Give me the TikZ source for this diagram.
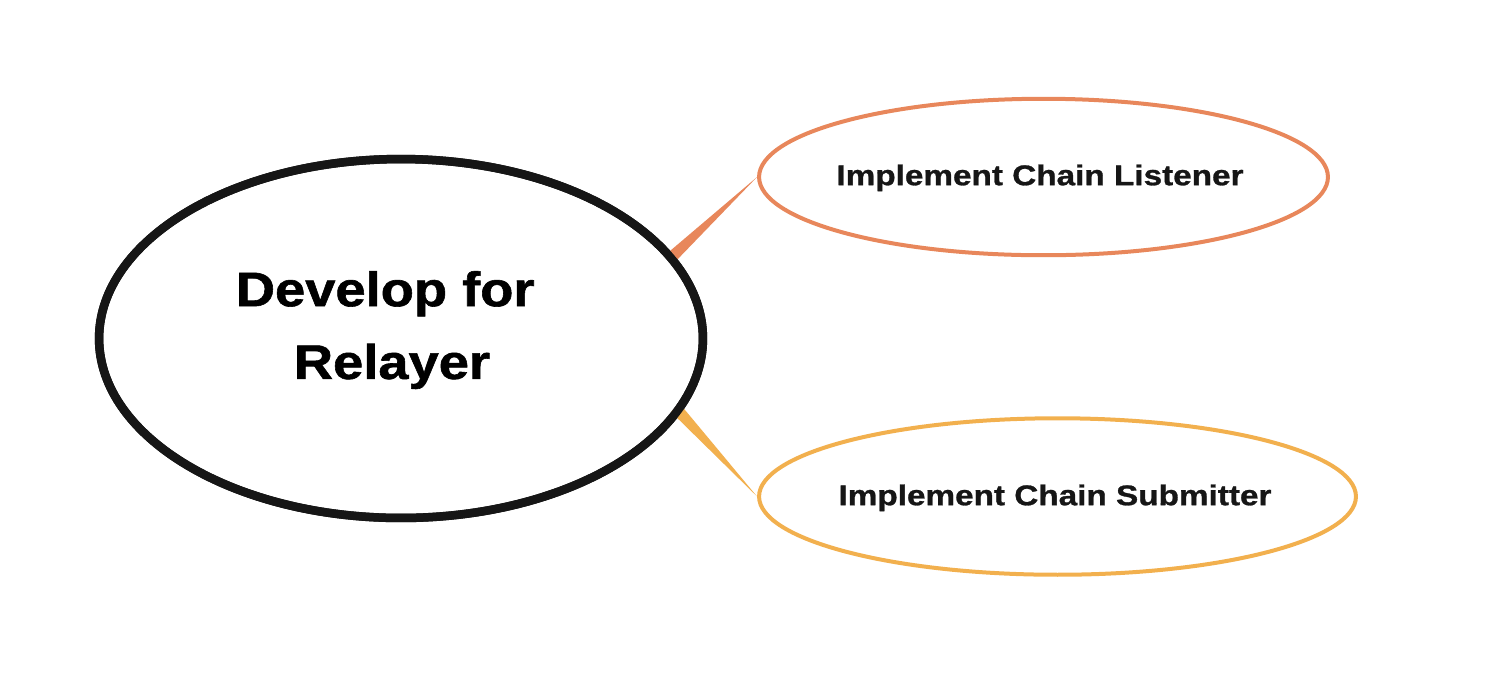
\documentclass[tikz,border=0pt]{standalone}
\usepackage{fontspec}
\setmainfont{Liberation Sans}
\newfontfamily\robo[FakeStretch=1.12, BoldFeatures={FakeBold=1.2}]{Liberation Sans}
\newfontfamily\robochild[FakeStretch=1.17, BoldFeatures={FakeBold=1.0}]{Liberation Sans}
\usetikzlibrary{shapes.geometric,calc}
\definecolor{inkblack}{HTML}{161616}
\definecolor{orangeline}{HTML}{E8875B}
\definecolor{yellowline}{HTML}{F2B04E}
\tikzset{
  mainbox/.style={ellipse, draw=inkblack, line width=0.17cm, inner sep=0pt,
    minimum width=12.08cm, minimum height=7.18cm},
  childbox/.style={ellipse, line width=0.08cm, inner sep=0pt,
    minimum height=3.13cm},
  childtext/.style={text=inkblack, inner sep=0pt,
    font=\robochild\bfseries\fontsize{16.2}{19}\selectfont,
    text height=11.6pt, text depth=0pt},
  mainlabel/.style={align=center, text=black,
    font=\robo\bfseries\fontsize{27.6}{41.4}\selectfont},
}
\begin{document}
\begin{tikzpicture}[x=0.02cm,y=-0.02cm]
\useasboundingbox (0,0) rectangle (1500,674);
\node[mainbox] (main) at (401,338.5) {};
\node[childbox, draw=orangeline, minimum width=11.38cm] (c1) at (1043.5,177) {};
\node[childbox, draw=yellowline, minimum width=11.94cm] (c2) at (1057.5,496.5) {};
\node[childtext] (t1) at (1040,175) {Implement Chain Listener};
\node[childtext] (t2) at (1055,495) {Implement Chain Submitter};
% tapered connectors
\coordinate (a1) at (main.17.3);
\coordinate (a2) at (main.-15.9);
\coordinate (b1) at ($(a1)!-0.15cm!(c1.west)$);
\coordinate (b2) at ($(a2)!-0.15cm!(c2.west)$);
\fill[orangeline] (c1.west) -- ($(b1)!0.12cm!90:(c1.west)$) -- ($(b1)!0.12cm!-90:(c1.west)$) -- cycle;
\fill[yellowline] (c2.west) -- ($(b2)!0.12cm!90:(c2.west)$) -- ($(b2)!0.12cm!-90:(c2.west)$) -- cycle;
\node[mainbox] at (main.center) {};
\node[mainlabel] (lbl) at (392,330) {Develop for\hspace*{0.28em}\\Relayer};
\end{tikzpicture}
\end{document}
